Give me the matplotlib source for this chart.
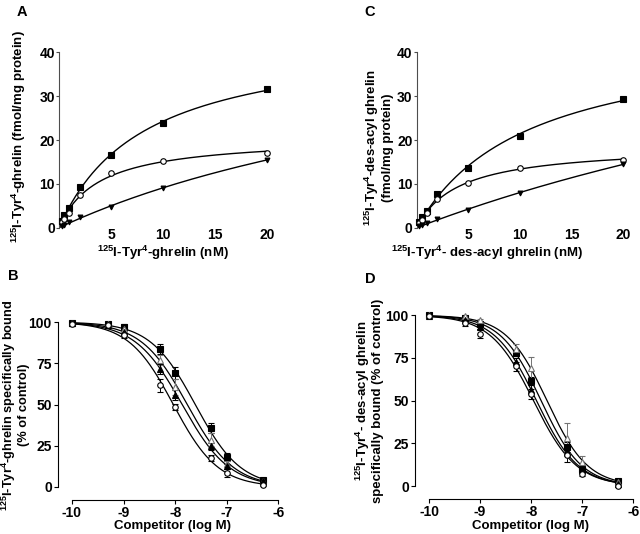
import numpy as np
import matplotlib
matplotlib.use("Agg")
import matplotlib.pyplot as plt

plt.rcParams['font.family'] = ['Liberation Sans', 'DejaVu Sans']
plt.rcParams['font.weight'] = 'bold'
plt.rcParams['mathtext.default'] = 'regular'
plt.rcParams['axes.unicode_minus'] = False

# saturation binding data (nM, fmol/mg protein)
conc = [0.25, 0.5, 1, 2, 5, 10, 20]
a_total = [1.5, 3.0, 4.4, 9.3, 16.6, 23.8, 31.6]
a_spec = [1.2, 2.0, 3.4, 7.5, 12.4, 15.3, 17.0]
a_nonspec = [0.3, 0.7, 1.3, 2.5, 4.8, 9.0, 15.5]
c_total = [1.2, 2.5, 3.9, 7.7, 13.7, 21.0, 29.3]
c_spec = [1.0, 1.8, 3.3, 6.5, 10.3, 13.7, 15.4]
c_nonspec = [0.3, 0.6, 1.0, 1.9, 4.0, 8.0, 14.5]

# competition data (log M, % of control)
logc = [-10, -9.3, -9, -8.3, -8, -7.3, -7, -6.3]
b_sq = [99.4, 98.5, 96.8, 83.4, 69.1, 35.8, 18.2, 4.4]
b_sq_err = [0, 0, 2, 3, 3.5, 3, 2.5, 0.5]
b_otri = [99.5, 98.5, 95.5, 76.8, 60.6, 28.7, 14.0, 3.5]
b_otri_err = [0, 0, 1.5, 3, 5, 4, 2, 0.5]
b_ftri = [99.5, 98.0, 94.0, 71.3, 56.0, 24.6, 12.5, 3.5]
b_ftri_err = [0, 0, 1.5, 3, 3, 2, 1.5, 0.5]
b_oc = [99.0, 98.0, 91.9, 61.6, 48.5, 17.6, 8.5, 1.0]
b_oc_err = [0, 0, 1.5, 4, 2, 2, 2.5, 0.5]

d_sq = [100, 98.6, 94.7, 77.9, 61.5, 22.9, 10.2, 3.1]
d_sq_err = [0, 0.5, 1.5, 2, 2.5, 3, 2, 0.5]
d_otri = [100, 99.8, 97.0, 80.5, 69.3, 28.1, 14.0, 2.5]
d_otri_err = [0, 0.5, 1, 2.5, 6.5, 9, 3.5, 0.5]
d_ftri = [99.8, 97.5, 93.2, 72.7, 56.4, 19.9, 9.2, 1.0]
d_ftri_err = [0, 1, 1.5, 2, 2.5, 2.5, 1.5, 0.5]
d_oc = [99.4, 95.5, 89.3, 70.1, 53.7, 18.0, 7.2, 0.0]
d_oc_err = [0, 2, 2.5, 2.5, 3, 4, 1.5, 0.5]


def fit_hyper(x, y):
    x = np.asarray(x, float); y = np.asarray(y, float)
    best = None
    for k in np.linspace(0.5, 80, 1600):
        f = x / (k + x)
        b = (f @ y) / (f @ f)
        r = np.sum((y - b * f) ** 2)
        if best is None or r < best[0]:
            best = (r, b, k)
    return best[1], best[2]


def fit_sig(x, y):
    x = np.asarray(x, float); y = np.asarray(y, float)
    best = None
    for c in np.arange(-9, -7, 0.005):
        for h in np.arange(0.5, 1.5, 0.01):
            r = np.sum((y - 100 / (1 + 10 ** ((x - c) * h))) ** 2)
            if best is None or r < best[0]:
                best = (r, c, h)
    return best[1], best[2]


W, H = 640, 534
fig = plt.figure(figsize=(6.4, 5.34), dpi=100)


def box(l, r, b, t):
    return [l / W, 1 - b / H, (r - l) / W, (b - t) / H]


def ftext(x, y, s, **kw):
    kw.setdefault('fontsize', 9.5)
    fig.text(x / W, 1 - y / H, s, ha='center', va='center', fontweight='bold',
             multialignment='center', **kw)


def bold_ticks(ax, size):
    for t in ax.get_xticklabels() + ax.get_yticklabels():
        t.set_fontweight('bold')
        t.set_fontsize(size)


def saturation(ax, tot, spec, ns):
    xs = np.linspace(0, 20, 200)
    for y, m, fc in [(tot, 's', 'black'), (spec, 'o', 'white'), (ns, 'v', 'black')]:
        b, k = fit_hyper(conc, y)
        ax.plot(xs, b * xs / (k + xs), color='black', lw=1)
        ax.plot(conc, y, ls='none', marker=m, ms=4 if m != 'v' else 3.5,
                mfc=fc, mec='black', mew=0.8, clip_on=False, zorder=3)
    ax.set_xlim(0, 20)
    ax.set_ylim(0, 40)
    ax.set_xticks([5, 10, 15, 20])
    ax.set_yticks([0, 10, 20, 30, 40])
    for s in ['top', 'right', 'bottom']:
        ax.spines[s].set_visible(False)
    ax.spines['left'].set_linewidth(0.8)
    ax.spines['left'].set_color('0.3')
    ax.tick_params(axis='x', length=0, pad=0.5)
    ax.tick_params(axis='y', length=2, width=0.8, pad=1, color='0.3')
    bold_ticks(ax, 10)


def competition(ax, sets):
    xs = np.linspace(-10, -6.3, 300)
    for y, e, m, fc, ec in sets:
        c, h = fit_sig(logc, y)
        ax.plot(xs, 100 / (1 + 10 ** ((xs - c) * h)), color='black', lw=0.9)
        ax.errorbar(logc, y, yerr=e, fmt=m, ms=4, mfc=fc, mec=ec, mew=0.8,
                    ecolor=ec, elinewidth=0.7, capsize=2, capthick=0.7,
                    clip_on=False, zorder=3)
    ax.set_xlim(-10, -6)
    ax.set_ylim(0, 100)
    ax.set_xticks([-10, -9, -8, -7, -6])
    ax.set_yticks([0, 25, 50, 75, 100])
    for s in ['top', 'right']:
        ax.spines[s].set_visible(False)
    ax.spines['left'].set_position(('outward', 10))
    ax.spines['bottom'].set_position(('outward', 9))
    ax.spines['left'].set_linewidth(0.8)
    ax.spines['bottom'].set_linewidth(0.8)
    ax.tick_params(length=3, width=0.8, pad=1.5)
    bold_ticks(ax, 10)


axA = fig.add_axes(box(59, 267, 227.7, 52.3))
saturation(axA, a_total, a_spec, a_nonspec)
ftext(163, 253, '$^{125}$I-Tyr$^{4}$-ghrelin (nM)')
ftext(19, 137, '$^{125}$I-Tyr$^{4}$-ghrelin (fmol/mg protein)', rotation=90)

axC = fig.add_axes(box(416.6, 623.3, 227.7, 52.3))
saturation(axC, c_total, c_spec, c_nonspec)
ftext(487, 253, '$^{125}$I-Tyr$^{4}$- des-acyl ghrelin (nM)')
ftext(378, 148, '$^{125}$I-Tyr$^{4}$-des-acyl ghrelin\n(fmol/mg protein)', rotation=90,
      linespacing=1.1)

grey = '0.45'
axB = fig.add_axes(box(72, 278.3, 487, 322))
competition(axB, [(b_sq, b_sq_err, 's', 'black', 'black'),
                  (b_otri, b_otri_err, '^', 'white', grey),
                  (b_ftri, b_ftri_err, '^', 'black', 'black'),
                  (b_oc, b_oc_err, 'o', 'white', 'black')])
ftext(173, 526, 'Competitor (log M)')
ftext(15, 405, '$^{125}$I-Tyr$^{4}$-ghrelin specifically bound\n(% of control)', rotation=90,
      linespacing=1.0, fontsize=9.2)

axD = fig.add_axes(box(429, 633.3, 486, 315.3))
competition(axD, [(d_sq, d_sq_err, 's', 'black', 'black'),
                  (d_otri, d_otri_err, '^', 'white', grey),
                  (d_ftri, d_ftri_err, '^', 'black', 'black'),
                  (d_oc, d_oc_err, 'o', 'white', 'black')])
ftext(531, 526, 'Competitor (log M)')
ftext(369, 401, '$^{125}$I-Tyr$^{4}$- des-acyl ghrelin\nspecifically bound (% of control)',
      rotation=90, linespacing=1.05)

for lab, x, y in [('A', 22, 12), ('C', 370, 12), ('B', 13, 276), ('D', 370, 279)]:
    ftext(x, y, lab, fontsize=10.5)

fig.savefig('out.png', dpi=100)
